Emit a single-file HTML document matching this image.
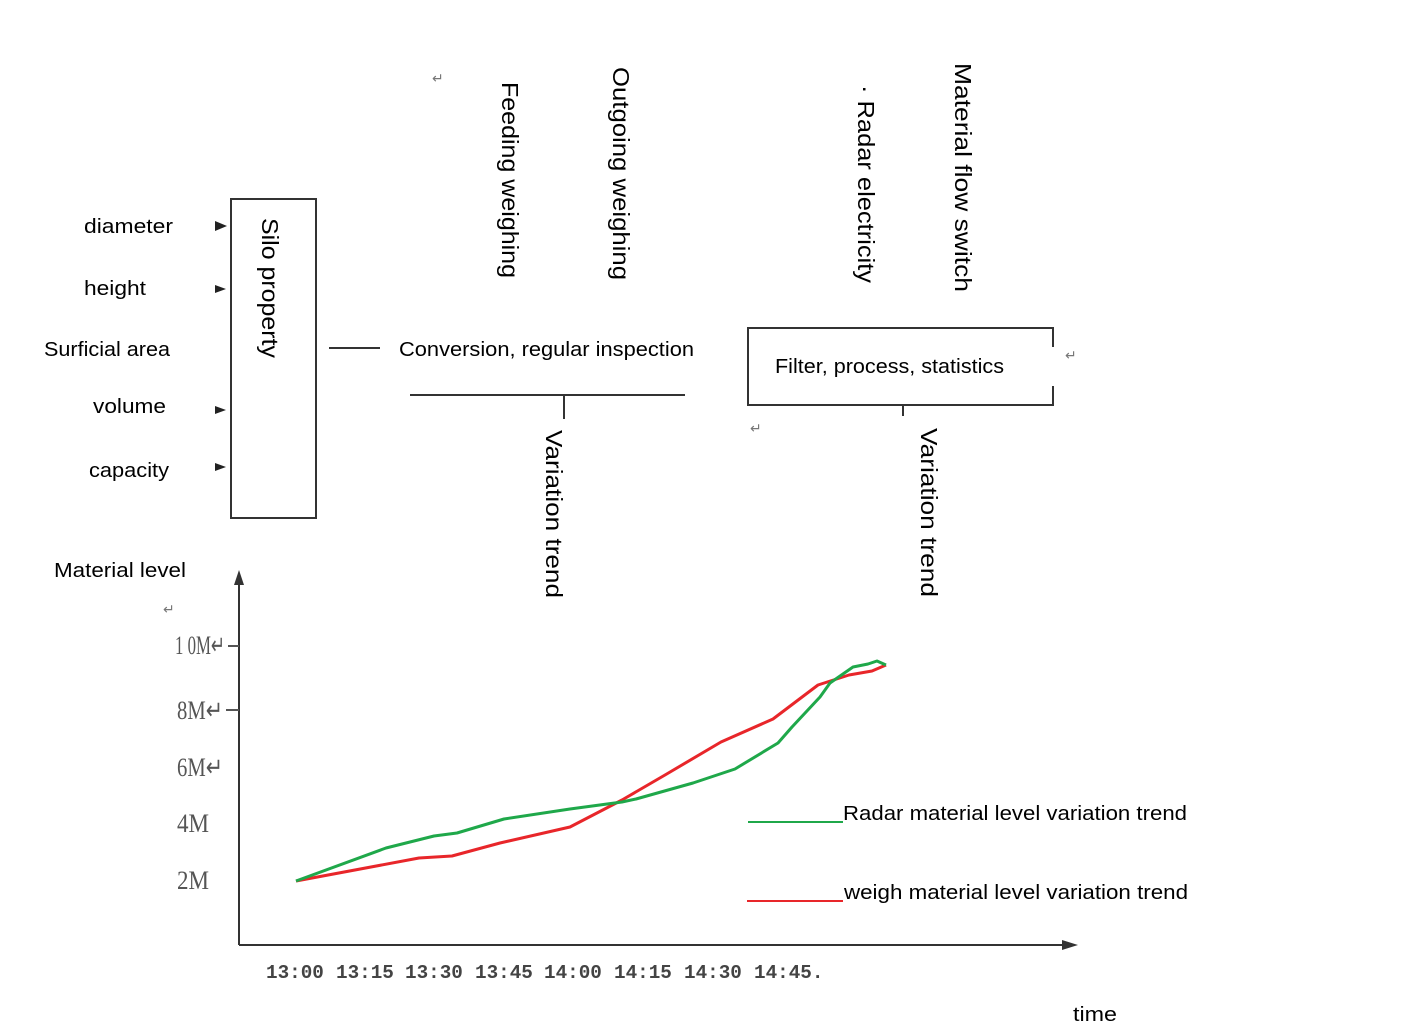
<!DOCTYPE html>
<html><head><meta charset="utf-8"><style>
html,body{margin:0;padding:0;background:#fff;}
svg{display:block;}
text{font-family:"Liberation Sans",sans-serif;fill:#000;}
.t{font-size:20px;}
.v{font-size:23px;}
.tick{font-family:"Liberation Serif",serif;font-size:26px;fill:#555;}
.tm{font-family:"Liberation Mono",monospace;font-size:19.3px;fill:#444;font-weight:bold;}
.ret{font-size:14px;fill:#777;}
</style></head><body>
<svg width="1403" height="1035" viewBox="0 0 1403 1035" xmlns="http://www.w3.org/2000/svg">
<text class="t" x="84" y="233" textLength="89" lengthAdjust="spacingAndGlyphs">diameter</text>
<text class="t" x="84" y="295" textLength="62" lengthAdjust="spacingAndGlyphs">height</text>
<text class="t" x="44" y="356" textLength="126" lengthAdjust="spacingAndGlyphs">Surficial area</text>
<text class="t" x="93" y="413" textLength="73" lengthAdjust="spacingAndGlyphs">volume</text>
<text class="t" x="89" y="477" textLength="80" lengthAdjust="spacingAndGlyphs">capacity</text>
<g fill="#222">
<polygon points="215,221 227,226 215,231"/>
<polygon points="215,285 226,289 215,293"/>
<polygon points="215,406 226,410 215,414"/>
<polygon points="215,463 226,467 215,471"/>
</g>
<rect x="231" y="199" width="85" height="319" fill="none" stroke="#333" stroke-width="2"/>
<text class="t" transform="translate(262,218) rotate(90)" style="font-size:23px" textLength="140" lengthAdjust="spacingAndGlyphs">Silo property</text>
<line x1="329" y1="348" x2="380" y2="348" stroke="#333" stroke-width="2"/>
<text class="t" x="399" y="356" textLength="295" lengthAdjust="spacingAndGlyphs">Conversion, regular inspection</text>
<line x1="410" y1="395" x2="685" y2="395" stroke="#333" stroke-width="2"/>
<line x1="564" y1="395" x2="564" y2="419" stroke="#333" stroke-width="2"/>
<text class="v" transform="translate(502,82) rotate(90)" textLength="196" lengthAdjust="spacingAndGlyphs">Feeding weighing</text>
<text class="v" transform="translate(613,67) rotate(90)" textLength="213" lengthAdjust="spacingAndGlyphs">Outgoing weighing</text>
<text class="v" transform="translate(858,85) rotate(90)" textLength="198" lengthAdjust="spacingAndGlyphs">· Radar electricity</text>
<text class="v" transform="translate(955,63) rotate(90)" textLength="229" lengthAdjust="spacingAndGlyphs">Material flow switch</text>
<text class="v" transform="translate(546,430) rotate(90)" textLength="168" lengthAdjust="spacingAndGlyphs">Variation trend</text>
<text class="v" transform="translate(921,428) rotate(90)" textLength="169" lengthAdjust="spacingAndGlyphs">Variation trend</text>
<text class="ret" x="432" y="83">↵</text>
<path d="M1053,347 V328 H748 V405 H1053 V386" fill="none" stroke="#333" stroke-width="2"/>
<text class="t" x="775" y="373" textLength="229" lengthAdjust="spacingAndGlyphs">Filter, process, statistics</text>
<line x1="903" y1="405" x2="903" y2="416" stroke="#333" stroke-width="2"/>
<text class="ret" x="1065" y="360">↵</text>
<text class="ret" x="750" y="433">↵</text>
<text class="t" x="54" y="577" textLength="132" lengthAdjust="spacingAndGlyphs">Material level</text>
<text class="ret" x="163" y="614">↵</text>
<line x1="239" y1="580" x2="239" y2="945" stroke="#333" stroke-width="2"/>
<polygon points="239,570 234,585 244,585" fill="#333"/>
<line x1="239" y1="945" x2="1065" y2="945" stroke="#333" stroke-width="2"/>
<polygon points="1078,945 1062,940 1062,950" fill="#333"/>
<line x1="228" y1="646" x2="239" y2="646" stroke="#555" stroke-width="2"/>
<line x1="226" y1="710" x2="239" y2="710" stroke="#555" stroke-width="2"/>
<text class="tick" x="175" y="654" textLength="50" lengthAdjust="spacingAndGlyphs">1 0M↵</text>
<text class="tick" x="177" y="719" textLength="46" lengthAdjust="spacingAndGlyphs">8M↵</text>
<text class="tick" x="177" y="776" textLength="46" lengthAdjust="spacingAndGlyphs">6M↵</text>
<text class="tick" x="177" y="832" textLength="32" lengthAdjust="spacingAndGlyphs">4M</text>
<text class="tick" x="177" y="889" textLength="32" lengthAdjust="spacingAndGlyphs">2M</text>
<text class="tm" x="266" y="978">13:00</text>
<text class="tm" x="336" y="978">13:15</text>
<text class="tm" x="405" y="978">13:30</text>
<text class="tm" x="475" y="978">13:45</text>
<text class="tm" x="544" y="978">14:00</text>
<text class="tm" x="614" y="978">14:15</text>
<text class="tm" x="684" y="978">14:30</text>
<text class="tm" x="754" y="978">14:45.</text>
<polyline fill="none" stroke="#e8262a" stroke-width="3" stroke-linejoin="round" points="296,881 419,858 452,856 500,843 570,827 622,800 665,775 721,742 773,719 818,685 849,675 872,671 886,665"/>
<polyline fill="none" stroke="#1fa84a" stroke-width="3" stroke-linejoin="round" points="296,881 386,848 434,836 457,833 504,819 570,809 622,802 636,799 693,783 735,769 778,743 792,727 820,697 830,683 853,667 868,664 877,661 886,665"/>
<line x1="748" y1="822" x2="843" y2="822" stroke="#1fa84a" stroke-width="2"/>
<text class="t" x="843" y="820" textLength="344" lengthAdjust="spacingAndGlyphs">Radar material level variation trend</text>
<line x1="747" y1="901" x2="843" y2="901" stroke="#e8262a" stroke-width="2"/>
<text class="t" x="844" y="899" textLength="344" lengthAdjust="spacingAndGlyphs">weigh material level variation trend</text>
<text class="t" x="1073" y="1021" textLength="44" lengthAdjust="spacingAndGlyphs">time</text>
</svg>
</body></html>
